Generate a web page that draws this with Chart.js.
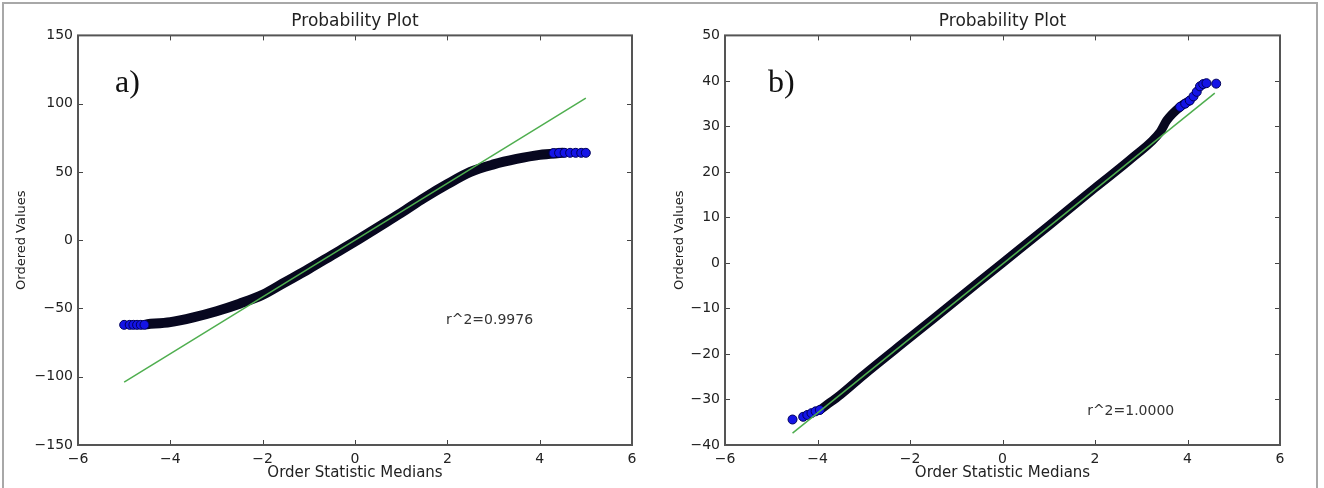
<!DOCTYPE html>
<html>
<head>
<meta charset="utf-8">
<script src="https://cdn.jsdelivr.net/npm/chart.js@4.4.0/dist/chart.umd.min.js"></script>
<style>
	body { margin: 0; background: #fff; }
	#frame { position: absolute; left: 2px; top: 2px; width: 1312px; height: 500px; border: 2px solid #a8a8a8; }
	canvas { position: absolute; top: 0; }
	#probA { left: 0; }
	#probB { left: 662px; }
</style>
</head>
<body>
<div id="frame"></div>
<canvas id="probA" width="662" height="488"></canvas>
<canvas id="probB" width="662" height="488"></canvas>
<script>
// panel a) - ordered values against order statistic medians
var medA = [-5, -4.5, -4, -3.5, -3, -2.5, -2, -1.5, -1, -0.5, 0, 0.5, 1, 1.5, 2, 2.5, 3, 3.5, 4, 4.5, 5];
var ordA = [-62, -61.5, -60, -56.5, -52, -46.5, -40, -30.5, -21, -11, -1, 9.5, 20, 31, 41, 50, 55.5, 59.5, 62.5, 64, 64];
var tailAx = [-5, -4.88, -4.8, -4.72, -4.64, -4.56, 4.3, 4.42, 4.54, 4.66, 4.78, 4.9, 5];
var tailAy = [-62, -62, -62, -62, -62, -62, 63.8, 64, 64, 64, 64, 64, 64];
var fitAx = [-5, 5];
var fitAy = [-104, 104];
var r2A = 'r^2=0.9976';

// panel b)
var medB = [-4.54, -4.31, -4.13, -3.95, -3.8, -3.51, -3, -2, -1, 0, 1, 2, 2.83, 3.41, 3.55, 3.84, 4.05, 4.2, 4.27, 4.41, 4.62];
var ordB = [-34.4, -33.8, -33, -32.3, -31.2, -29, -24.6, -16.4, -8.2, 0, 8.2, 16.5, 23.3, 28.8, 31.3, 34.3, 35.7, 37.6, 38.8, 39.5, 39.4];
var tailBx = [-4.54, -4.31, -4.22, -4.13, -4.04, -3.95, 3.84, 3.95, 4.05, 4.13, 4.2, 4.27, 4.34, 4.41, 4.62];
var tailBy = [-34.4, -33.8, -33.4, -33, -32.6, -32.3, 34.3, 35, 35.7, 36.6, 37.6, 38.8, 39.3, 39.5, 39.4];
var fitBx = [-4.54, 4.59];
var fitBy = [-37.4, 37.3];
var r2B = 'r^2=1.0000';

var xTicks = [-6, 6, 2];        // min, max, step
var yTicksA = [-150, 150, 50];
var yTicksB = [-40, 50, 10];

Chart.defaults.font.family = '"DejaVu Sans", sans-serif';
Chart.defaults.color = '#222';

function pairs(xs, ys) {
	return xs.map(function (x, i) { return { x: x, y: ys[i] }; });
}

function minusSign(v) {
	return v < 0 ? '\u2212' + Math.abs(v) : '' + v;
}

// box round the axes, inward ticks, panel letter and r^2 note
var probFrame = {
	id: 'probFrame',
	afterDatasetsDraw: function (chart, args, opts) {
		var ctx = chart.ctx, a = chart.chartArea, sx = chart.scales.x, sy = chart.scales.y;
		ctx.save();
		ctx.strokeStyle = '#444';
		ctx.lineWidth = 1;
		ctx.beginPath();
		sx.ticks.forEach(function (t) {
			var p = Math.round(sx.getPixelForValue(t.value)) + 0.5;
			ctx.moveTo(p, a.bottom); ctx.lineTo(p, a.bottom - 5);
			ctx.moveTo(p, a.top); ctx.lineTo(p, a.top + 5);
		});
		sy.ticks.forEach(function (t) {
			var p = Math.round(sy.getPixelForValue(t.value)) + 0.5;
			ctx.moveTo(a.left, p); ctx.lineTo(a.left + 5, p);
			ctx.moveTo(a.right, p); ctx.lineTo(a.right - 5, p);
		});
		ctx.stroke();
		ctx.strokeStyle = '#555';
		ctx.lineWidth = 2;
		ctx.strokeRect(a.left, a.top, a.right - a.left, a.bottom - a.top);

		ctx.fillStyle = '#111';
		ctx.font = '32px "Liberation Serif", serif';
		ctx.textBaseline = 'alphabetic';
		ctx.fillText(opts.panel, a.left + opts.panelDx, a.top + 57);

		ctx.fillStyle = '#333';
		ctx.font = '14px "DejaVu Sans", sans-serif';
		ctx.textBaseline = 'middle';
		ctx.fillText(opts.note, sx.getPixelForValue(opts.noteX), sy.getPixelForValue(opts.noteY));
		ctx.restore();
	}
};

function makeConfig(med, ord, bandFrom, bandTo, bandWidth, tx, ty, fx, fy, yt, pad, yWidth, frame) {
	return {
		type: 'scatter',
		data: {
			datasets: [{
				data: pairs(fx, fy),
				showLine: true,
				borderColor: '#4fae4f',
				borderWidth: 1.5,
				pointRadius: 0,
				order: 0
			}, {
				data: pairs(tx, ty),
				pointRadius: 4.5,
				backgroundColor: '#1414e6',
				borderColor: '#00005a',
				borderWidth: 1,
				order: 1
			}, {
				data: pairs(med.slice(bandFrom, bandTo), ord.slice(bandFrom, bandTo)),
				showLine: true,
				borderColor: '#07071f',
				borderWidth: bandWidth,
				borderCapStyle: 'round',
				borderJoinStyle: 'round',
				cubicInterpolationMode: 'monotone',
				pointRadius: 0,
				order: 2
			}]
		},
		options: {
			responsive: false,
			animation: false,
			devicePixelRatio: 1,
			layout: { padding: pad },
			plugins: {
				legend: { display: false },
				tooltip: { enabled: false },
				title: {
					display: true,
					text: 'Probability Plot',
					fullSize: false,
					font: { size: 17, weight: 'normal' },
					padding: { top: 11, bottom: 4 }
				},
				probFrame: frame
			},
			scales: {
				x: {
					type: 'linear',
					min: xTicks[0],
					max: xTicks[1],
					grid: { display: false, drawTicks: false },
					border: { display: false },
					ticks: { stepSize: xTicks[2], padding: 6, font: { size: 14 }, callback: minusSign },
					title: { display: true, text: 'Order Statistic Medians', font: { size: 15 }, padding: { top: 0, bottom: 6 } },
					afterFit: function (s) { s.height = 43; }
				},
				y: {
					type: 'linear',
					min: yt[0],
					max: yt[1],
					grid: { display: false, drawTicks: false },
					border: { display: false },
					ticks: { stepSize: yt[2], padding: 5, font: { size: 14 }, callback: minusSign },
					title: { display: true, text: 'Ordered Values', font: { size: 13 }, padding: { top: 4, bottom: 4 } },
					afterFit: function (s) { s.width = yWidth; }
				}
			}
		},
		plugins: [probFrame]
	};
}

var configA = makeConfig(medA, ordA, 1, 20, 10, tailAx, tailAy, fitAx, fitAy, yTicksA,
	{ left: 10, right: 30, top: 0, bottom: 0 }, 68,
	{ panel: 'a)', panelDx: 37, note: r2A, noteX: 1.97, noteY: -58.5 });
var configB = makeConfig(medB, ordB, 3, 17, 9, tailBx, tailBy, fitBx, fitBy, yTicksB,
	{ left: 6, right: 44, top: 0, bottom: 0 }, 57,
	{ panel: 'b)', panelDx: 43, note: r2B, noteX: 1.83, noteY: -32.5 });

var chartA = new Chart(document.getElementById('probA').getContext('2d'), configA);
var chartB = new Chart(document.getElementById('probB').getContext('2d'), configB);
</script>
</body>
</html>
